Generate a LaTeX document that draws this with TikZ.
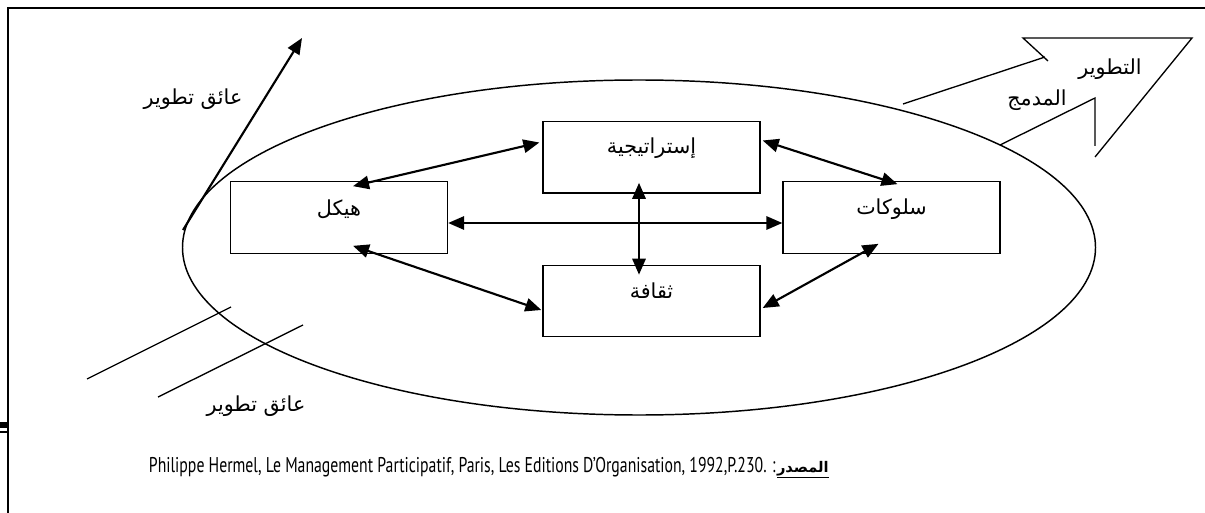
\documentclass[tikz,border=0pt]{standalone}
\usepackage{fontspec}
\usepackage{graphicx}
\usetikzlibrary{arrows.meta,calc}
\TeXXeTstate=1
\newfontfamily\arfont[Script=Arabic]{DejaVu Sans}
\newfontfamily\latfont{PT Sans}
\begin{document}
\begin{tikzpicture}[x=0.75pt,y=-0.75pt,
  >={Triangle[length=12pt,width=10pt]},
  boxnode/.style={draw,line width=1pt,minimum width=162.75pt,minimum height=53.5pt,inner sep=0pt},
  dbl/.style={<->,line width=1.6pt},
  thin line/.style={line width=1pt},
  artext/.style={font=\arfont\fontsize{15.5}{18}\selectfont}]
\useasboundingbox (0,0) rectangle (1205,513);

% page frame
\draw[line width=1.3pt] (8,513) -- (8,8) -- (1205,8);
\fill (0,422) rectangle (8,428);
\draw[line width=0.8pt] (0,432) -- (8,432);

% organisation ellipse
\draw[line width=1.1pt] (639,247.5) ellipse [x radius=456.5, y radius=167.5];

% the four components
\node[boxnode] (st) at (651.5,157.5) {};
\node[boxnode] (hk) at (339,217.5) {};
\node[boxnode] (sl) at (891.5,217.5) {};
\node[boxnode] (cu) at (651.5,301) {};
\node[artext] (tst) at (651.5,148) {\beginR إستراتيجية\endR};
\node[artext] (thk) at (339,209) {\beginR هيكل\endR};
\node[artext] (tsl) at (891.5,209) {\beginR سلوكات\endR};
\node[artext] (tcu) at (651.5,291) {\beginR ثقافة\endR};

% links between components
\draw[dbl] ($(hk.north)+(14,5)$) -- ($(st.west)+(-3,-15)$);
\draw[dbl] ($(st.east)+(2,-17)$) -- ($(sl.north)+(6,3)$);
\draw[dbl] ($(hk.south)+(14,-8)$) -- ($(cu.west)+(-1,9)$);
\draw[dbl] ($(cu.east)+(2,7)$) -- ($(sl.south)+(-13,-10)$);
\draw[dbl] ($(hk.east)+(0,5.5)$) -- ($(sl.west)+(0,5.5)$);
\draw[dbl] ($(st.south)+(-12.5,-11)$) -- ($(cu.north)+(-12.5,10)$);

% obstacle arrow breaking out (upper left)
\coordinate (ua0) at (183,230);
\coordinate (ua1) at (302,38);
\draw[->,line width=1.6pt] (ua0) -- (ua1);
\node[artext] (lua) at (193,99) {\beginR عائق تطوير\endR};

% obstacle lines (lower left)
\coordinate (la0) at (87,379);
\coordinate (la1) at (231,307);
\coordinate (lb0) at (158,397);
\coordinate (lb1) at (303,325);
\draw[thin line] (la0) -- (la1);
\draw[thin line] (lb0) -- (lb1);
\node[artext] (lla) at (256,406) {\beginR عائق تطوير\endR};

% integrated development arrow (upper right)
\coordinate (r0) at (903,104);
\coordinate (r1) at (1045,57);
\coordinate (r2) at (1023,38);
\coordinate (r3) at (1048,61);
\coordinate (r4) at (1192,38);
\coordinate (r5) at (1095,157);
\coordinate (r6) at (1095,146);
\coordinate (r7) at (1095,98);
\coordinate (r8) at (1000,145);
\draw[thin line] (r0) -- (r1);
\draw[thin line] (r3) -- (r2) -- (r4) -- (r5);
\draw[thin line] (r6) -- (r7) -- (r8);
\node[artext] (tdv) at (1110,69) {\beginR التطوير\endR};
\node[artext] (tin) at (1037,100) {\beginR المدمج\endR};

% source line
\node[anchor=base east,inner sep=0pt] (src) at (829,472)
  {\resizebox{470pt}{\height}{\latfont\fontsize{16}{18}\selectfont Philippe Hermel, Le Management Participatif, Paris, Les Editions D’Organisation, 1992,P.230. :}%
   \hspace{1pt}{\arfont\bfseries\fontsize{11}{13}\selectfont\beginR\underline{المصدر}\endR}};
\end{tikzpicture}
\end{document}
